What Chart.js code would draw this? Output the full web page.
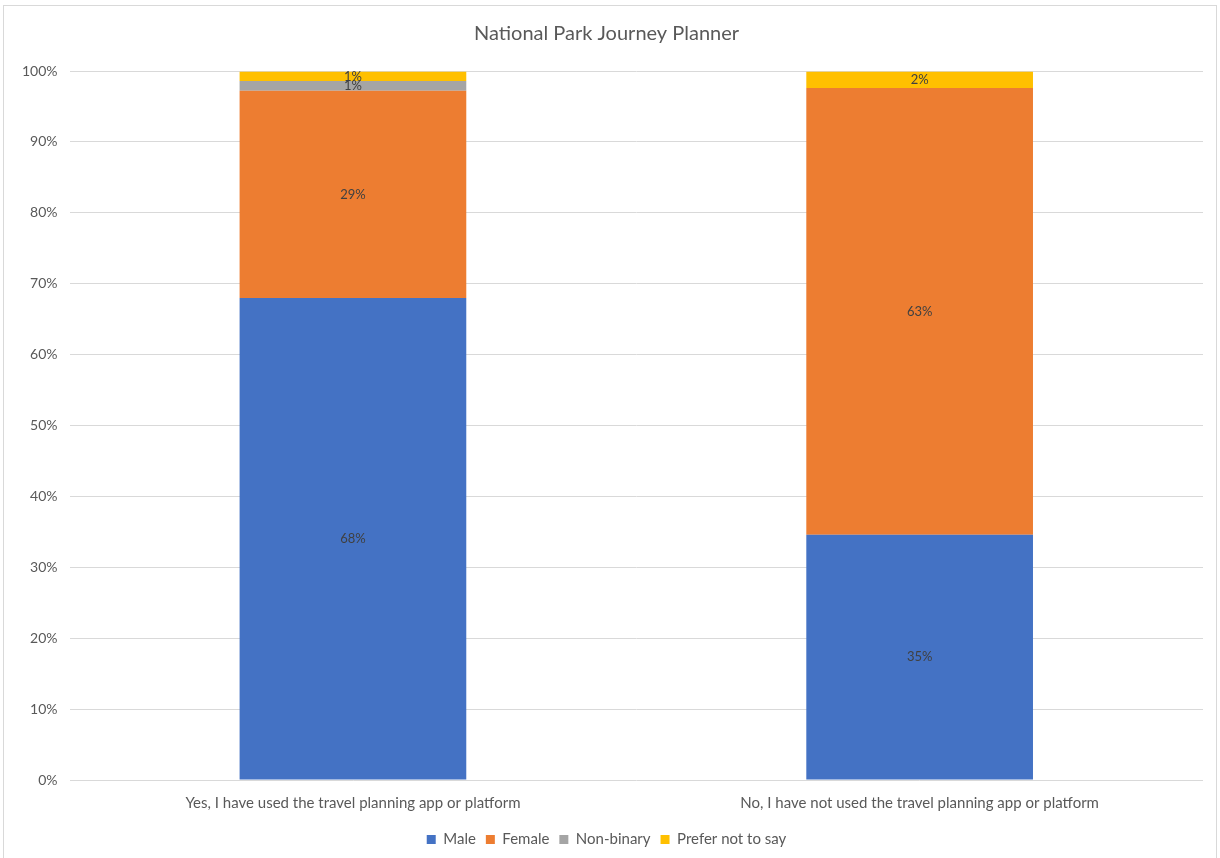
<!DOCTYPE html>
<html>
<head>
<meta charset="utf-8">
<script src="https://cdn.jsdelivr.net/npm/chart.js@4/dist/chart.umd.min.js"></script>
<style>
  html, body { margin: 0; padding: 0; background: #fff; }
  #frame {
    position: absolute; left: 3px; top: 5px;
    width: 1214px; height: 860px;
    border: 1px solid #d9d9d9; box-sizing: border-box;
  }
  #wrap { position: absolute; left: 0; top: 0; width: 1220px; height: 858px; }
</style>
</head>
<body>
<div id="frame"></div>
<div id="wrap"><canvas id="chart-bar"></canvas></div>
<script>
const categories = [
  "Yes, I have used the travel planning app or platform",
  "No, I have not used the travel planning app or platform"
];
const male = [68.0, 34.6];
const female = [29.2, 63.0];
const nonBinary = [1.4, 0];
const preferNot = [1.3, 2.3];

const textColor = "#595959";
const fontFamily = "Lato, 'Liberation Sans', sans-serif";

// writes each segment's percentage in the middle of its bar piece
const segmentLabels = {
  id: "segmentLabels",
  afterDatasetsDraw(chart) {
    const ctx = chart.ctx;
    ctx.save();
    ctx.font = "13px " + fontFamily;
    ctx.fillStyle = "#404040";
    ctx.textAlign = "center";
    ctx.textBaseline = "middle";
    chart.data.datasets.forEach((ds, i) => {
      const meta = chart.getDatasetMeta(i);
      meta.data.forEach((bar, j) => {
        const v = ds.data[j];
        if (!v) return;
        const y = (bar.y + bar.base) / 2;
        ctx.fillText(Math.round(v) + "%", bar.x, y);
      });
    });
    ctx.restore();
  }
};

var ctx = document.getElementById("chart-bar").getContext("2d");

new Chart(ctx, {
  type: "bar",
  data: {
    labels: categories,
    datasets: [
      { label: "Male", data: male, backgroundColor: "#4472c4" },
      { label: "Female", data: female, backgroundColor: "#ed7d31" },
      { label: "Non-binary", data: nonBinary, backgroundColor: "#a5a5a5" },
      { label: "Prefer not to say", data: preferNot, backgroundColor: "#ffc000" }
    ]
  },
  options: {
    responsive: true,
    maintainAspectRatio: false,
    animation: false,
    layout: { padding: { left: 10, right: 17, top: 21, bottom: 1 } },
    datasets: {
      bar: { barPercentage: 0.4, categoryPercentage: 1.0, borderWidth: 0 }
    },
    plugins: {
      title: {
        display: true,
        text: "National Park Journey Planner",
        color: textColor,
        font: { family: fontFamily, size: 20, weight: "normal" },
        padding: { top: 1, bottom: 25 }
      },
      legend: {
        position: "bottom",
        labels: {
          color: textColor,
          font: { family: fontFamily, size: 15 },
          boxWidth: 9,
          boxHeight: 9,
          padding: 10
        }
      },
      tooltip: { enabled: false }
    },
    scales: {
      x: {
        stacked: true,
        grid: { display: false },
        border: { display: false },
        // a little extra room between the category labels and the legend
        afterFit: scale => { scale.height += 4; },
        ticks: {
          color: textColor,
          font: { family: fontFamily, size: 15 },
          maxRotation: 0,
          padding: 6
        }
      },
      y: {
        stacked: true,
        min: 0,
        max: 100,
        grid: { color: "#d9d9d9", drawTicks: false },
        border: { display: false },
        ticks: {
          stepSize: 10,
          color: textColor,
          font: { family: fontFamily, size: 14 },
          padding: 12,
          callback: v => v + "%"
        }
      }
    }
  },
  plugins: [segmentLabels]
});
</script>
</body>
</html>
